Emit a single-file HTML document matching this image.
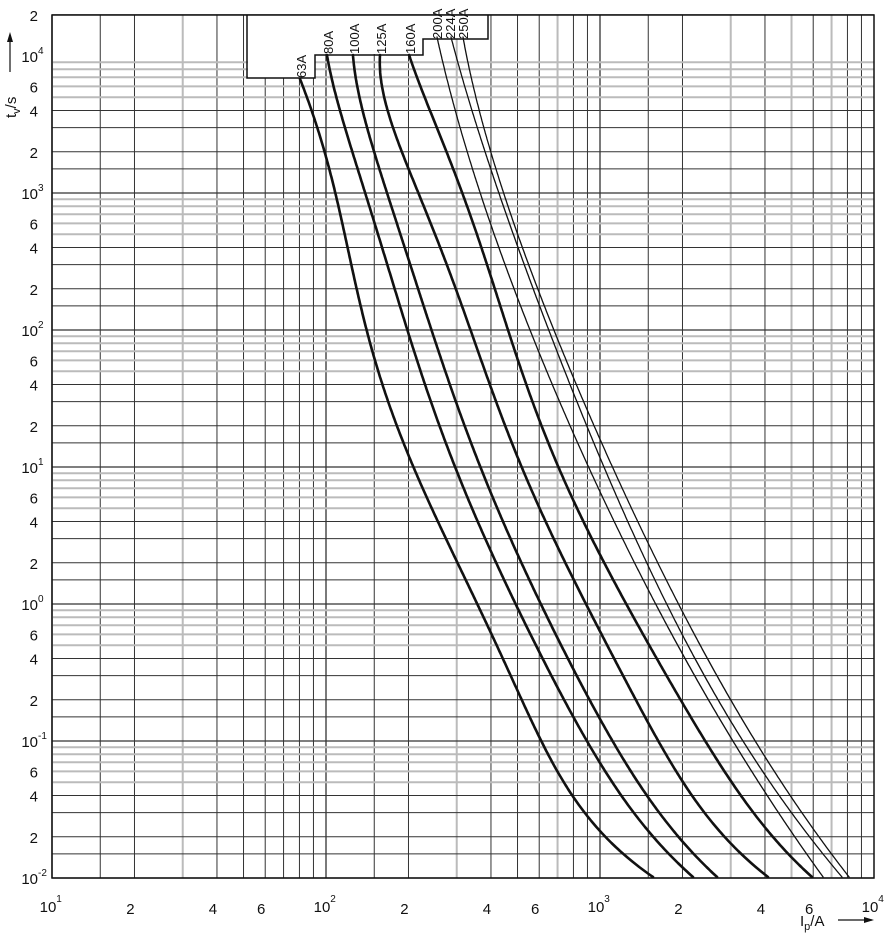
<!DOCTYPE html>
<html><head><meta charset="utf-8"><style>
html,body{margin:0;padding:0;background:#fff}
svg{display:block}
text{font-family:"Liberation Sans",sans-serif;fill:#111}
</style></head><body>
<svg id="s" width="888" height="933" viewBox="0 0 888 933" xmlns="http://www.w3.org/2000/svg">
<g id="grid"></g>
<polygon points="248,15 248,78 315,78 315,54 423,54 423,39 488,39 488,15" fill="#fff"/>
<polyline points="247,15 247,78 315,78 315,55 423,55 423,39 488,39 488,15" fill="none" stroke="#111" stroke-width="1.5"/>
<rect x="52" y="15" width="822" height="863" fill="none" stroke="#111" stroke-width="1.5"/>
<g id="curves" fill="none" stroke="#111" stroke-linejoin="round" stroke-linecap="round"></g>
<g font-size="13">
<text transform="translate(306,78) rotate(-90)">63A</text>
<text transform="translate(333,54) rotate(-90)">80A</text>
<text transform="translate(359,54) rotate(-90)">100A</text>
<text transform="translate(386,54) rotate(-90)">125A</text>
<text transform="translate(415,54) rotate(-90)">160A</text>
<text transform="translate(442,39) rotate(-90)">200A</text>
<text transform="translate(455,39) rotate(-90)">224A</text>
<text transform="translate(468,39) rotate(-90)">250A</text>
</g>
<g id="ylab" font-size="15" text-anchor="end"></g>
<g id="xlab" font-size="15" text-anchor="middle"></g>
<text x="800" y="926" font-size="15">I<tspan font-size="11" dy="4">p</tspan><tspan dy="-4">/A</tspan></text>
<line x1="838" y1="920" x2="872" y2="920" stroke="#111" stroke-width="1.2"/>
<polygon points="874,920 864,917 864,923" fill="#111"/>
<text transform="translate(16,118) rotate(-90)" font-size="15">t<tspan font-size="11" dy="4">v</tspan><tspan dy="-4">/s</tspan></text>
<line x1="10" y1="72" x2="10" y2="38" stroke="#111" stroke-width="1.2"/>
<polygon points="10,32 7,42 13,42" fill="#111"/>
</svg>
<script>
var NS="http://www.w3.org/2000/svg";
function el(p,t,a){var e=document.createElementNS(NS,t);for(var k in a)e.setAttribute(k,a[k]);p.appendChild(e);return e;}
var g=document.getElementById('grid');
var X0=52,XD=274,Y0=878,YD=137;
var mults=[1,1.5,2,3,4,5,6,7,8,9];
var grayX={ '3_0':1,'3_1':1,'7_1':1,'3_2':1,'5_2':1,'7_2':1};
for(var d=0;d<3;d++){for(var i=0;i<mults.length;i++){var m=mults[i];var x=X0+XD*(d+Math.log10(m));
 var gray=grayX[m+'_'+d];
 el(g,'line',{x1:x,y1:15,x2:x,y2:878,stroke:gray?'#bbb':'#333','stroke-width':gray?2:(m==1?1.3:1)});}}
for(var d=0;d<6;d++){for(var i=0;i<mults.length;i++){var m=mults[i];var y=Y0-YD*(d+Math.log10(m));
 var gray=m>=5;
 el(g,'line',{x1:52,y1:y,x2:874,y2:y,stroke:gray?'#bbb':'#333','stroke-width':gray?2:(m==1?1.3:1)});}}
var y2e4=Y0-YD*(6+Math.log10(2));
el(g,'line',{x1:52,y1:y2e4,x2:874,y2:y2e4,stroke:'#333','stroke-width':1});

var C=[
[2.6,6,[[300,79],[313,110],[323,150],[335,193],[348,247],[369,340],[388,400],[413,467],[440,527],[457,560],[478,604],[510,680],[543,741],[575,797],[603,837],[653,877]]],
[2.6,6,[[327,55],[347,140],[367,193],[383,247],[407,340],[432,400],[456,467],[495,560],[522,620],[553,677],[587,742],[623,797],[653,837],[693,877]]],
[2.6,6,[[353,55],[368,140],[388,193],[408,247],[433,340],[453,400],[480,467],[525,560],[547,620],[577,677],[610,742],[650,797],[680,837],[717,877]]],
[2.6,6,[[380,55],[395,140],[420,193],[442,247],[473,340],[493,400],[522,467],[568,560],[593,620],[622,677],[657,742],[697,797],[723,837],[768,877]]],
[2.6,6,[[409,55],[420,77],[457,183],[492,283],[517,350],[558,467],[602,560],[633,620],[670,677],[707,742],[740,797],[773,837],[812,877]]],
[1.3,4,[[437,37],[490,219],[517,301],[540,362],[570,423],[593,467],[622,530],[647,604],[697,677],[733,742],[770,797],[797,837],[823,877]]],
[1.3,4,[[451,37],[490,166],[517,251],[540,309],[570,373],[604,467],[632,530],[660,604],[708,677],[747,742],[780,797],[807,837],[842,877]]],
[1.3,4,[[463,37],[490,148],[520,244],[540,301],[570,362],[615,467],[643,530],[672,604],[718,677],[758,742],[792,797],[820,837],[849,877]]]
];
function fit(pts,deg){
 var y0=pts[0][1],y1=pts[pts.length-1][1];
 var n=deg+1,A=[],b=[];for(var i=0;i<n;i++){A.push(new Array(n).fill(0));b.push(0);}
 pts.forEach(function(p,k){var t=(p[1]-y0)/(y1-y0)*2-1;var w=(k==0||k==pts.length-1)?20:1;var pw=[];for(var i=0;i<n;i++)pw.push(Math.pow(t,i));
  for(var i=0;i<n;i++){b[i]+=w*pw[i]*p[0];for(var j=0;j<n;j++)A[i][j]+=w*pw[i]*pw[j];}});
 for(var i=0;i<n;i++){var mx=i;for(var r=i+1;r<n;r++)if(Math.abs(A[r][i])>Math.abs(A[mx][i]))mx=r;
  var tmp=A[i];A[i]=A[mx];A[mx]=tmp;var tb=b[i];b[i]=b[mx];b[mx]=tb;
  for(var r=i+1;r<n;r++){var f=A[r][i]/A[i][i];for(var c=i;c<n;c++)A[r][c]-=f*A[i][c];b[r]-=f*b[i];}}
 var co=new Array(n);for(var i=n-1;i>=0;i--){var s=b[i];for(var c=i+1;c<n;c++)s-=A[i][c]*co[c];co[i]=s/A[i][i];}
 return function(y){var t=(y-y0)/(y1-y0)*2-1,s=0;for(var i=0;i<n;i++)s+=co[i]*Math.pow(t,i);return s;};
}
var cg=document.getElementById('curves');
C.forEach(function(c){var p=c[2];var f=fit(p,c[1]);var y0=p[0][1],y1=p[p.length-1][1];
 var d='';for(var y=y0;y<=y1+0.01;y+=2){d+=(d?' L':'M')+f(y).toFixed(1)+','+y.toFixed(1);}
 el(cg,'path',{d:d,'stroke-width':c[0]});});
var yl=document.getElementById('ylab');
var exps=['-2','-1','0','1','2','3','4'];
for(var d=0;d<=6;d++){var y=Y0-YD*d;
 var t=el(yl,'text',{x:38,y:y+6});t.textContent='10';
 var s=el(yl,'text',{x:38,y:y-2,'font-size':10,'text-anchor':'start'});s.textContent=exps[d];
 if(d<6){[[2,'2'],[4,'4'],[6,'6']].forEach(function(q){var yy=Y0-YD*(d+Math.log10(q[0]));var tt=el(yl,'text',{x:38,y:yy+6});tt.textContent=q[1];});}
 else{var yy=Y0-YD*(6+Math.log10(2));var tt=el(yl,'text',{x:38,y:yy+6});tt.textContent='2';}
}
var xl=document.getElementById('xlab');
var xe=['1','2','3','4'];
for(var d=0;d<=3;d++){var x=X0+XD*d-4;
 var t=el(xl,'text',{x:x,y:912});t.textContent='10';
 var s=el(xl,'text',{x:x+11,y:902,'font-size':10});s.textContent=xe[d];
 if(d<3){[[2,'2'],[4,'4'],[6,'6']].forEach(function(q){var xx=X0+XD*(d+Math.log10(q[0]))-4;var tt=el(xl,'text',{x:xx,y:914});tt.textContent=q[1];});}
}
</script>
</body></html>
